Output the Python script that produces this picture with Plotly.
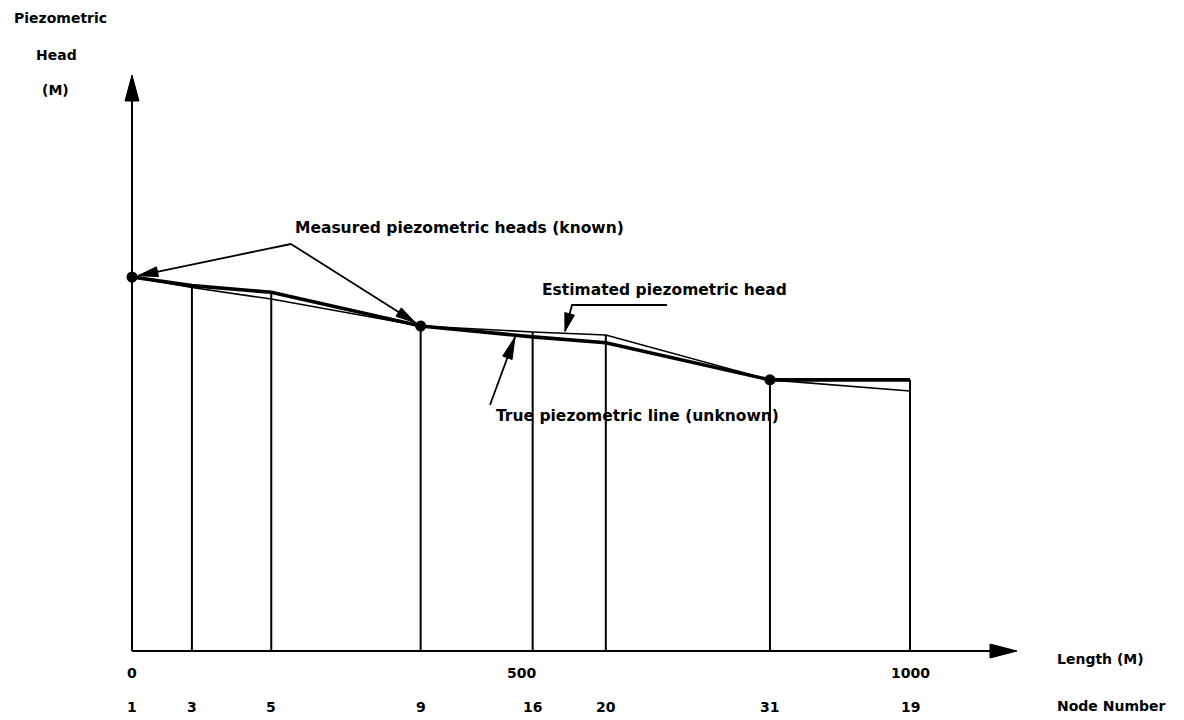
import numpy as np
import plotly.graph_objects as go

# ---- data -------------------------------------------------------------
node_numbers = ["1", "3", "5", "9", "16", "20", "31", "19"]
node_length = [0, 77, 179, 371, 515, 609, 820, 1000]          # m along the pipe
true_head = [100.0, 97.7, 95.9, 86.9, 84.0, 82.4, 72.5, 72.5]  # true piezometric line
est_head = [100.0, 97.2, 94.1, 86.9, 85.3, 84.5, 72.5, 69.5]   # estimated piezometric head
measured_nodes = ["1", "9", "31"]                                # nodes with known heads
length_ticks = [0, 500, 1000]

# ---- canvas / scale -----------------------------------------------------
W, H = 1184, 720
X0_PX, X_PER_M = 132.0, 0.778      # pixel of length 0, pixels per metre
Y0_PX, Y_PER_M = 651.0, 3.74       # pixel of head 0, pixels per metre of head

def px2x(px):
    return (px - X0_PX) / X_PER_M

def py2y(py):
    return (Y0_PX - py) / Y_PER_M

def x2px(x):
    return X0_PX + x * X_PER_M

def y2py(y):
    return Y0_PX - y * Y_PER_M

x_range = [px2x(0), px2x(W)]
y_range = [py2y(H), py2y(0)]

FONT = dict(family="DejaVu Sans", size=14, color="black", weight="bold")
CALLOUT_FONT = dict(family="DejaVu Sans", size=15.5, color="black", weight="bold")
INK = "black"

fig = go.Figure()
shapes = []
annotations = []


def arrow_head(tip_px, tail_px, length=20, half_w=5):
    """Filled triangular arrow head (pixel geometry) returned as an SVG path in data units."""
    tx, ty = tip_px
    sx, sy = tail_px
    d = np.array([tx - sx, ty - sy], dtype=float)
    d /= np.hypot(*d)
    n = np.array([-d[1], d[0]])
    base = np.array([tx, ty]) - d * length
    p1 = base + n * half_w
    p2 = base - n * half_w
    pts = [(tx, ty), tuple(p1), tuple(p2)]
    path = "M " + " L ".join(f"{px2x(a):.3f},{py2y(b):.3f}" for a, b in pts) + " Z"
    return dict(type="path", path=path, fillcolor=INK, line=dict(color=INK, width=1),
                xref="x", yref="y", layer="above")


def leader(points_px, width=1.8):
    xs = [px2x(p[0]) for p in points_px]
    ys = [py2y(p[1]) for p in points_px]
    fig.add_trace(go.Scatter(x=xs, y=ys, mode="lines", line=dict(color=INK, width=width),
                             hoverinfo="skip", showlegend=False))


# ---- axes with arrow heads ---------------------------------------------------
x_tip_px, y_tip_px = 1017, 75
shapes.append(dict(type="line", xref="x", yref="y", x0=0, y0=0, x1=px2x(x_tip_px - 10), y1=0,
                   line=dict(color=INK, width=2)))
shapes.append(dict(type="line", xref="x", yref="y", x0=0, y0=0, x1=0, y1=py2y(y_tip_px + 10),
                   line=dict(color=INK, width=2)))
shapes.append(arrow_head((x_tip_px, Y0_PX), (X0_PX, Y0_PX), length=27, half_w=7))
shapes.append(arrow_head((X0_PX, y_tip_px), (X0_PX, Y0_PX), length=26, half_w=7))

# ---- node verticals ---------------------------------------------------------
for xl, ht, he in zip(node_length, true_head, est_head):
    fig.add_trace(go.Scatter(x=[xl, xl], y=[0, max(ht, he)], mode="lines",
                             line=dict(color=INK, width=2), hoverinfo="skip", showlegend=False))

# ---- piezometric lines ------------------------------------------------------
fig.add_trace(go.Scatter(x=node_length, y=est_head, mode="lines", name="Estimated",
                         line=dict(color=INK, width=1.6), showlegend=False))
fig.add_trace(go.Scatter(x=node_length, y=true_head, mode="lines", name="True",
                         line=dict(color=INK, width=3.6), showlegend=False))

meas_idx = [node_numbers.index(n) for n in measured_nodes]
meas_x = [node_length[i] for i in meas_idx]
meas_y = [true_head[i] for i in meas_idx]
fig.add_trace(go.Scatter(x=meas_x, y=meas_y, mode="markers", name="Measured",
                         marker=dict(color=INK, size=11), showlegend=False))

# ---- callouts ---------------------------------------------------------------
# measured heads: two arrows from a common apex
apex = (291, 244)
for mx, my in zip(meas_x[:2], meas_y[:2]):
    cx, cy = x2px(mx), y2py(my)
    d = np.array([cx - apex[0], cy - apex[1]])
    d /= np.hypot(*d)
    tip = (cx - d[0] * 6, cy - d[1] * 6)
    leader([apex, tip])
    shapes.append(arrow_head(tip, apex, length=20, half_w=5))
annotations.append(dict(x=px2x(293), y=py2y(228), text="Measured piezometric heads (known)",
                        xanchor="left", yanchor="middle", showarrow=False, font=CALLOUT_FONT))

# estimated head: elbow leader pointing down onto the estimated line
est_tip_x = px2x(565)
est_tip = (565, y2py(np.interp(est_tip_x, node_length, est_head)) - 2)
elbow = (572, 305)
leader([(667, 305), elbow, est_tip])
shapes.append(arrow_head(est_tip, elbow, length=18, half_w=5))
annotations.append(dict(x=px2x(540), y=py2y(290), text="Estimated piezometric head",
                        xanchor="left", yanchor="middle", showarrow=False, font=CALLOUT_FONT))

# true line: arrow pointing up onto the true line
true_tip_x = px2x(515)
true_tip = (515, y2py(np.interp(true_tip_x, node_length, true_head)) + 2)
true_tail = (490, 405)
leader([true_tail, true_tip])
shapes.append(arrow_head(true_tip, true_tail, length=22, half_w=5))
annotations.append(dict(x=px2x(494), y=py2y(416), text="True piezometric line (unknown)",
                        xanchor="left", yanchor="middle", showarrow=False, font=CALLOUT_FONT))

# ---- axis labels --------------------------------------------------------------
for txt, cx, cy in [("Piezometric", 60, 18), ("Head", 56, 55), ("(M)", 55, 90)]:
    annotations.append(dict(x=px2x(cx), y=py2y(cy), text=txt, xanchor="center",
                            yanchor="middle", showarrow=False, font=FONT))
annotations.append(dict(x=px2x(1055), y=py2y(659), text="Length (M)", xanchor="left",
                        yanchor="middle", showarrow=False, font=FONT))
annotations.append(dict(x=px2x(1055), y=py2y(706), text="Node Number", xanchor="left",
                        yanchor="middle", showarrow=False, font=FONT))

for t in length_ticks:
    annotations.append(dict(x=t, y=py2y(673), text=str(t), xanchor="center", yanchor="middle",
                            showarrow=False, font=FONT))
for xl, n in zip(node_length, node_numbers):
    annotations.append(dict(x=xl, y=py2y(707), text=n, xanchor="center", yanchor="middle",
                            showarrow=False, font=FONT))

fig.update_layout(
    width=W, height=H,
    margin=dict(l=0, r=0, t=0, b=0),
    paper_bgcolor="white", plot_bgcolor="white",
    xaxis=dict(range=x_range, visible=False, fixedrange=True),
    yaxis=dict(range=y_range, visible=False, fixedrange=True),
    shapes=shapes, annotations=annotations, showlegend=False,
)

fig.write_html("out.html")
